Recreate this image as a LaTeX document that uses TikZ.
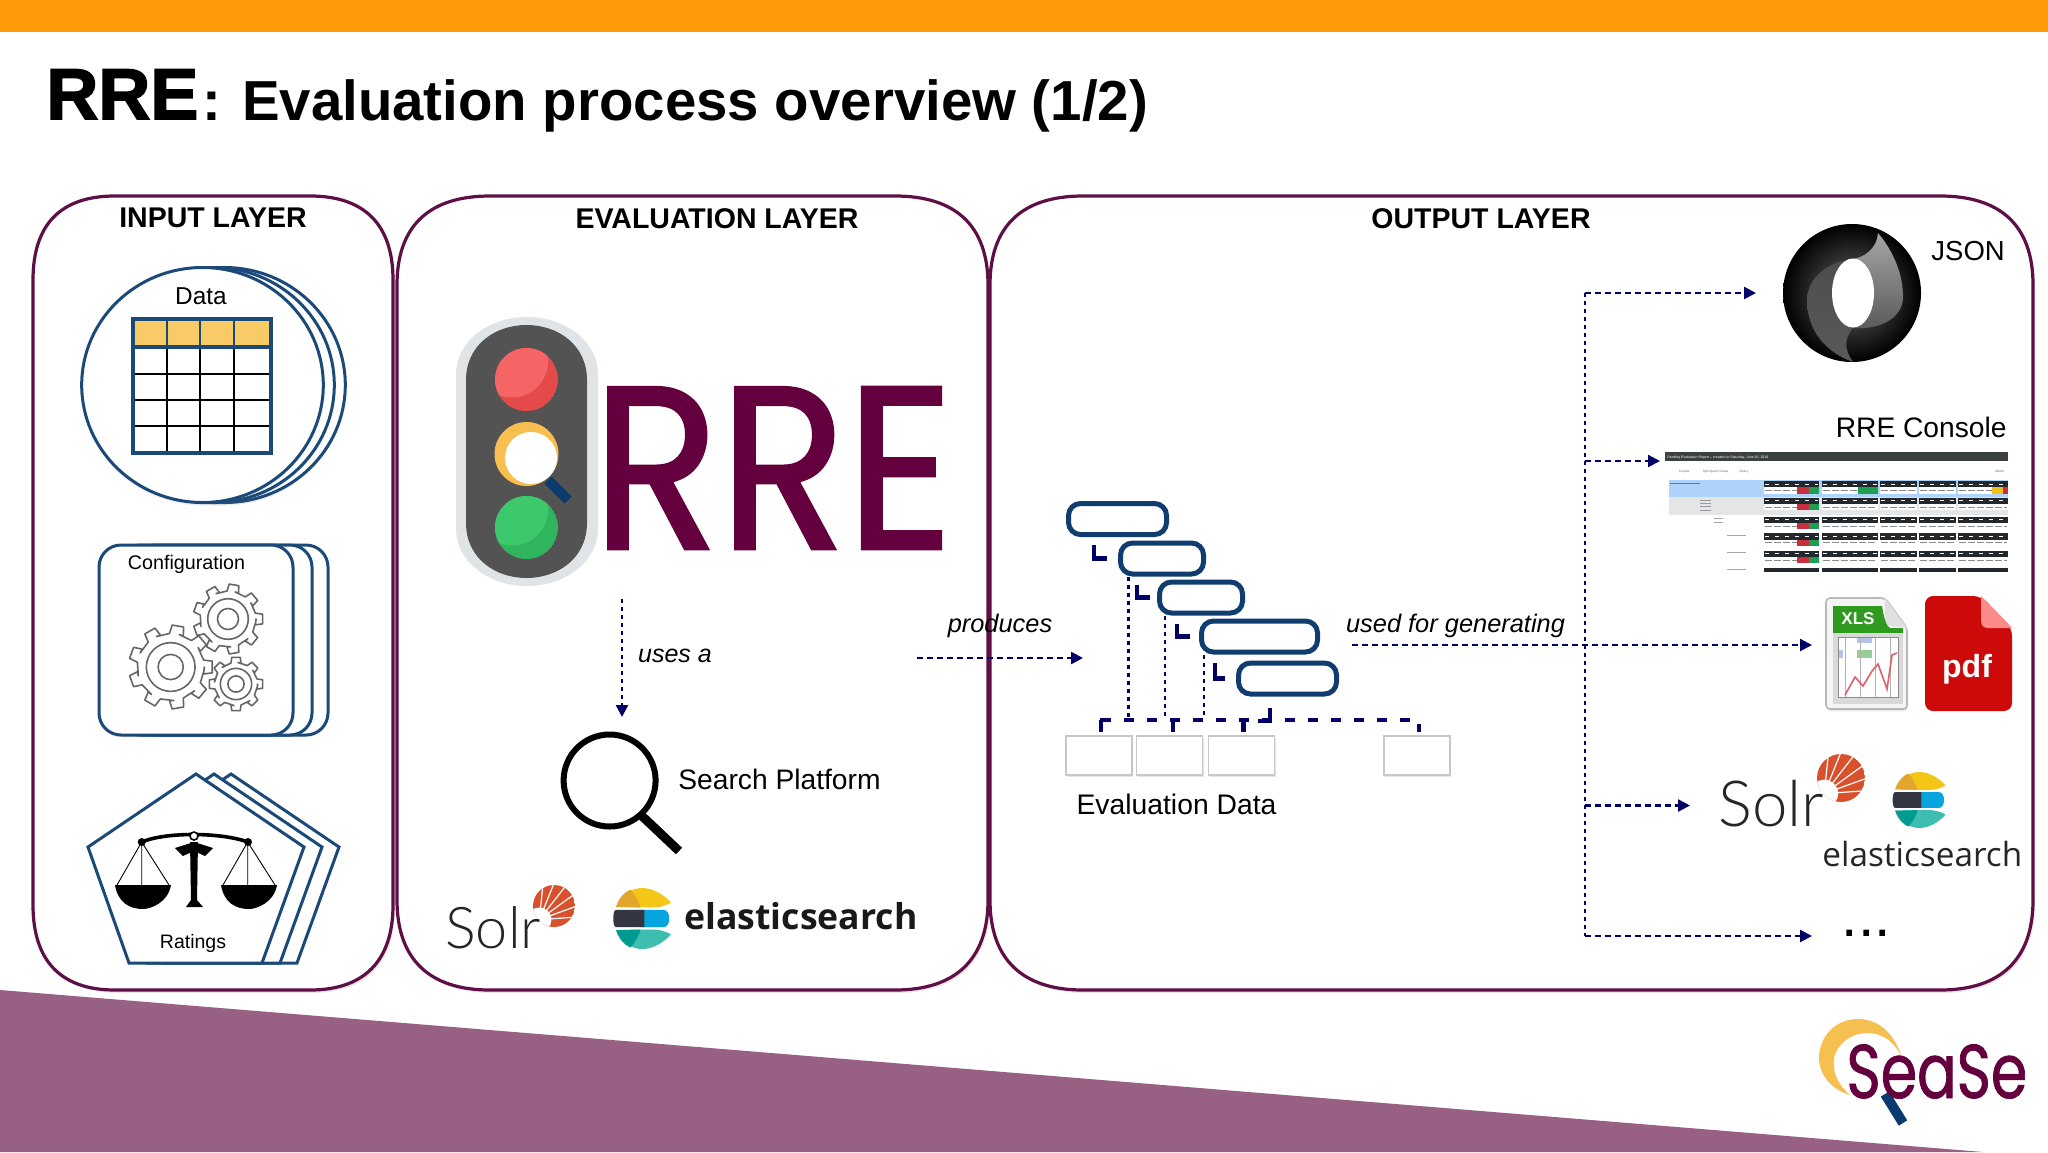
\documentclass[tikz,border=0pt]{standalone}
\usepackage{fontspec}
\setmainfont{Liberation Sans}
\newfontfamily\heavyfont[FakeBold=2.2]{Liberation Sans Bold}
\newfontfamily\logofont[FakeStretch=0.9,FakeBold=1.2]{Poppins}
\newfontfamily\seasefont[FakeStretch=0.77,FakeBold=1.0]{Poppins}
\newfontfamily\solrfont{Lato Light}
\newfontfamily\elasticfont{Open Sans}
\usetikzlibrary{shadows,arrows.meta,calc}
\definecolor{barorange}{HTML}{FF9A0A}
\definecolor{footpurple}{HTML}{986082}
\definecolor{maroon}{HTML}{5E0F45}
\definecolor{logomaroon}{HTML}{65003F}
\definecolor{stackblue}{HTML}{1B4A78}
\definecolor{navyline}{HTML}{000066}
\definecolor{ganttblue}{HTML}{0F3D70}
\definecolor{lensblue}{HTML}{0B3A6F}
\definecolor{sunorange}{HTML}{D9512C}
\definecolor{gearcol}{HTML}{666666}
\newcommand\fz[1]{\fontsize{#1}{#1}\selectfont}
\tikzset{
  panel/.style={draw=maroon,line width=1.6pt,fill=white,drop shadow={shadow xshift=1pt,shadow yshift=-1.5pt,opacity=.18}},
  stackline/.style={draw=stackblue,line width=1.5pt,fill=white},
  lbl/.style={anchor=base,inner sep=0pt,text=black},
  dotline/.style={draw=navyline,line width=1.2pt,dash pattern=on 2pt off 2pt},
  dashline/.style={draw=navyline,line width=1.2pt,dash pattern=on 3pt off 2pt},
  tip/.style={-{Triangle[length=6pt,width=6pt,fill=navyline]}},
  thickbus/.style={draw=navyline,line width=2.4pt},
  gantt/.style={draw=ganttblue,line width=2.5pt,fill=white,rounded corners=6pt,inner sep=0pt,minimum height=15.5pt},
  evalbox/.style={draw=black!22,line width=.7pt,fill=white,inner sep=0pt,minimum width=33pt,minimum height=19.5pt,drop shadow={shadow xshift=.5pt,shadow yshift=-1.2pt,opacity=.2}},
}
% gear: x y R teeth
\newcommand\geariconx[4]{%
  \begin{scope}[shift={(#1,#2)}]
  \draw[draw=gearcol,line width=.8pt,fill=white,line join=round]
    (0:#3*.8)
    \foreach \i in {1,...,#4} {
      -- ({(\i-1)*360/#4+.12*360/#4}:#3*.8)
      -- ({\i*360/#4-.30*360/#4}:#3*.8)
      -- ({\i*360/#4-.20*360/#4}:#3)
      -- ({\i*360/#4+.20*360/#4}:#3)
      -- ({\i*360/#4+.30*360/#4}:#3*.8)
    } -- cycle;
  \draw[draw=gearcol,line width=.8pt] (0,0) circle[radius=#3*.58];
  \draw[draw=gearcol,line width=.8pt] (0,0) circle[radius=#3*.3];
  \end{scope}}
% solr sun: x y r
\newcommand\solrsun[3]{%
  \begin{scope}
  \clip (#1,#2) circle[radius=#3];
  \fill[sunorange] (#1,#2) circle[radius=#3];
  \foreach \a in {-4,-20,-36,-52,-68,-84} {
    \draw[white,line width=.6pt] (#1-.7*#3,#2+.65*#3) -- ++(\a:4*#3);
  }
  \fill[white] (#1-.7*#3,#2+.65*#3) circle[radius=.58*#3];
  \end{scope}}
% elastic logo: x y scale(px half-height)
\newcommand\elasticlogo[3]{%
  \begin{scope}[shift={(#1,#2)},scale=#3]
  \fill[fill={rgb,255:red,244;green,198;blue,24}] (-.85,-.38) .. controls (-.7,-.8) and (-.3,-1) .. (0,-1) .. controls (.35,-1) and (.7,-.8) .. (.95,-.52) .. controls (.7,-.38) and (.5,-.36) .. (.3,-.36) -- cycle;
  \fill[fill={rgb,255:red,226;green,166;blue,46}] (-.85,-.38) .. controls (-.75,-.7) and (-.55,-.88) .. (-.38,-.95) .. controls (-.2,-.75) and (-.1,-.55) .. (-.05,-.36) -- cycle;
  \fill[fill={rgb,255:red,7;green,165;blue,222}] (-.1,-.28) -- (.72,-.28) .. controls (.95,-.28) and (.95,.28) .. (.72,.28) -- (-.1,.28) -- cycle;
  \fill[fill={rgb,255:red,52;green,55;blue,65}] (.08,-.28) -- (-.86,-.28) .. controls (-.97,-.28) and (-.97,.28) .. (-.86,.28) -- (.08,.28) -- cycle;
  \fill[fill={rgb,255:red,62;green,190;blue,176}] (-.85,.38) .. controls (-.7,.8) and (-.3,1) .. (0,1) .. controls (.35,1) and (.7,.8) .. (.95,.52) .. controls (.7,.38) and (.5,.36) .. (.3,.36) -- cycle;
  \fill[fill={rgb,255:red,1;green,155;blue,143}] (-.85,.38) .. controls (-.75,.7) and (-.55,.88) .. (-.38,.95) .. controls (-.2,.75) and (-.1,.55) .. (-.05,.36) -- cycle;
  \end{scope}}
% traffic lamp: cy dark light
\newcommand\tlamp[3]{%
  \begin{scope}
  \clip (526.5,#1) circle[radius=31.5];
  \fill[#2] (526.5,#1) circle[radius=31.5];
  \fill[#3] (512,#1-18) circle[radius=36];
  \end{scope}}
\begin{document}
\begin{tikzpicture}[x=0.5pt,y=-0.5pt]
\useasboundingbox (0,0) rectangle (2048,1152);
\fill[white] (0,0) rectangle (2048,1152);
\fill[barorange] (0,0) rectangle (2048,32);
\fill[footpurple] (0,990) -- (1983,1152) -- (0,1152) -- cycle;

% title
\node[anchor=base west,inner sep=0pt] (titlerre) at (46,119) {\fz{36}\heavyfont RRE};
\node[anchor=base west,inner sep=0pt] (titlerest) at (202,120) {\fz{28.2}\bfseries : Evaluation process overview (1/2)};

% panels
\draw[panel] (33,280) .. controls (33,225) and (60,196) .. (115,196) -- (310,196) .. controls (365,196) and (393,225) .. (393,280) -- (393,905) .. controls (393,960) and (365,990) .. (310,990) -- (115,990) .. controls (60,990) and (33,960) .. (33,905) -- cycle;
\draw[panel] (397,285) .. controls (397,225) and (430,196) .. (490,196) -- (895,196) .. controls (955,196) and (988,225) .. (988,285) -- (988,900) .. controls (988,960) and (955,990) .. (895,990) -- (490,990) .. controls (430,990) and (397,960) .. (397,900) -- cycle;
\draw[panel] (990,285) .. controls (990,225) and (1023,196) .. (1083,196) -- (1940,196) .. controls (2000,196) and (2033,225) .. (2033,285) -- (2033,900) .. controls (2033,960) and (2000,990) .. (1940,990) -- (1083,990) .. controls (1023,990) and (990,960) .. (990,900) -- cycle;

\node[lbl] (inputlayer) at (213,227) {\fz{14.25}\bfseries INPUT LAYER};
\node[lbl] (evallayer) at (717,228) {\fz{14.25}\bfseries EVALUATION LAYER};
\node[lbl] (outputlayer) at (1481,228) {\fz{14.25}\bfseries OUTPUT LAYER};

% ---- data stack
\foreach \dx in {22,11,0} {
  \draw[stackline,drop shadow={shadow xshift=0pt,shadow yshift=-1.5pt,opacity=.12}] (202.5+\dx,385) ellipse[x radius=120.8,y radius=117.5];
}
\node[lbl] (datalabel) at (201,304) {\fz{12.2}Data};
\fill[white] (131,316.5) rectangle (273,455);
\fill[fill={rgb,255:red,248;green,203;blue,102}] (133,320) rectangle (271,345);
\foreach \x in {167,200,234} {
  \draw[stackblue,line width=1.2pt] (\x,318) -- (\x,347);
  \draw[black,line width=1.2pt] (\x,347) -- (\x,453);
}
\foreach \y in {374,400,426} { \draw[black,line width=1.1pt] (133,\y) -- (271,\y); }
\draw[stackblue,line width=1.6pt] (131,347) -- (273,347);
\draw[stackblue,line width=2.4pt] (133,319) rectangle (271,453);

% ---- configuration stack
\foreach \dx in {35,19,0} {
  \draw[stackline,rounded corners=11pt,drop shadow={shadow xshift=0pt,shadow yshift=-1.2pt,opacity=.12}] (99+\dx,545) rectangle (293+\dx,735);
}
\node[lbl] (configlabel) at (186.5,569) {\fz{9.85}Configuration};
\geariconx{170.7}{667}{42}{9}
\geariconx{228}{619}{35}{9}
\geariconx{236}{684}{27}{8}

% ---- ratings stack
\foreach \dx in {35,18,0} {
  \draw[stackline,line join=miter] (196+\dx,774) -- (304+\dx,847) -- (262+\dx,963) -- (129+\dx,963) -- (88+\dx,847) -- cycle;
}
\node[lbl] (ratingslabel) at (193,948) {\fz{9.75}Ratings};
\draw[black,line width=1.8pt] (141.7,842) .. controls (165,832) and (220,832) .. (248,842);
\fill[black] (141.7,842) circle[radius=4] (248,842) circle[radius=4];
\fill[black] (175,848) -- (194,842) -- (213,848) -- (205,856) -- (194,851) -- (183,856) -- cycle;
\fill[black] (190,842) -- (198,842) -- (197,900) -- (203,907) -- (186,907) -- (191,900) -- cycle;
\draw[black,line width=.8pt,fill=white] (194,836) circle[radius=4];
\foreach \dx in {0,106} {
  \draw[black,line width=.45pt] (\dx+117,885) -- (\dx+141.7,842) -- (\dx+169,885) (\dx+141.7,842) -- (\dx+141.7,885);
  \fill[black] (\dx+115,885) -- (\dx+171,885) .. controls (\dx+168,903) and (\dx+150,909) .. (\dx+143,909) .. controls (\dx+130,909) and (\dx+118,903) .. (\dx+115,885) -- cycle;
}

% ---- traffic light
\fill[fill={rgb,255:red,225;green,228;blue,230}] (456,375) .. controls (456,340) and (490,317) .. (527,317) .. controls (564,317) and (598,340) .. (598,375) -- (598,528) .. controls (598,563) and (564,586) .. (527,586) .. controls (490,586) and (456,563) .. (456,528) -- cycle;
\fill[fill={rgb,255:red,83;green,83;blue,83}] (466,380) .. controls (466,345) and (495,325) .. (526.5,325) .. controls (558,325) and (587,345) .. (587,380) -- (587,523) .. controls (587,558) and (558,578) .. (526.5,578) .. controls (495,578) and (466,558) .. (466,523) -- cycle;
\definecolor{reddark}{HTML}{E54A4A}\definecolor{redlight}{HTML}{F56565}
\definecolor{greendark}{HTML}{2FB65C}\definecolor{greenlight}{HTML}{3DC96B}
\tlamp{379.5}{reddark}{redlight}
\fill[fill={rgb,255:red,248;green,190;blue,80}] (526.5,454) circle[radius=32];
\draw[lensblue,line width=5pt] (548,480) -- (568,500);
\fill[white] (531,458) circle[radius=26];
\tlamp{527.5}{greendark}{greenlight}

% ---- RRE logo
\node[anchor=base west,inner sep=0pt,text=logomaroon] (rrelogo) at (592,549) {\fz{116}\logofont RRE};

% ---- uses a
\coordinate (usesfrom) at (622,599);
\coordinate (usesto) at (622,717);
\draw[dotline,tip] (usesfrom) -- (usesto);
\node[lbl] (usesa) at (675,662) {\fz{12.5}\itshape uses a};

% ---- search
\draw[black,line width=3pt] (609.6,780.5) circle[radius=46];
\draw[black,line width=4.5pt] (642,816) -- (679,851);
\node[lbl,anchor=base west] (searchlabel) at (678,789) {\fz{14.1}Search Platform};

% ---- solr + elastic (evaluation)
\solrsun{554}{906}{21}
\node[anchor=base west,inner sep=0pt,text=black!85] (solrone) at (445,948) {\fz{28.8}\solrfont Solr};
\elasticlogo{642}{918.5}{30.5}
\node[anchor=base west,inner sep=0pt,text=black!90] (elasticone) at (684,929) {\fz{17.8}\elasticfont\bfseries elasticsearch};

% ---- produces
\node[lbl] (produces) at (1000,632) {\fz{12.7}\itshape produces};
\coordinate (prodfrom) at (917,658);
\coordinate (prodto) at (1083,658);
\draw[dashline,tip] (prodfrom) -- (prodto);

% ---- gantt boxes
\node[gantt,minimum width=49pt] (g1) at (1117.5,519) {};
\node[gantt,minimum width=41.5pt] (g2) at (1162,558.5) {};
\node[gantt,minimum width=41.5pt] (g3) at (1201,597.5) {};
\node[gantt,minimum width=58pt] (g4) at (1259.5,636.5) {};
\node[gantt,minimum width=49pt] (g5) at (1287.5,678.5) {};
\coordinate (k1) at (1094,519);
\coordinate (k2) at (1137,519);
\coordinate (k3) at (1177,519);
\coordinate (k4) at (1215,519);
\coordinate (k5) at (1270,519);
\foreach \k/\a/\b in {k1/g1/g2,k2/g2/g3,k3/g3/g4,k4/g4/g5} {
  \draw[thickbus,line width=2.2pt,dash pattern=on 0pt off 4pt on 13pt off 100pt] (\k |- \a.south) |- (\b.west);
}
\draw[thickbus,line width=2.2pt,dash pattern=on 0pt off 5.5pt on 13pt off 100pt] (k5 |- g5.south) |- (1258,721);

\node[evalbox] (e1) at (1099,755.5) {};
\node[evalbox] (e2) at (1169.5,755.5) {};
\node[evalbox] (e3) at (1241.5,755.5) {};
\node[evalbox] (e4) at (1417,755.5) {};
\coordinate (t2) at (1128.6,720);
\coordinate (t3) at (1165,716);
\coordinate (t4) at (1204,716);
\draw[dotline] (t2 |- g2.south) -- (t2);
\draw[dotline] (t3 |- g3.south) -- (t3);
\draw[dotline] (t4 |- g4.south) -- (t4);
\coordinate (busa) at (1101,720);
\coordinate (busb) at (1173,720);
\coordinate (busc) at (1243.5,720);
\coordinate (busd) at (1419,720);
\draw[thickbus] (busa |- e1.north) ++(0,-3) -- (busa) ++(-1.2,0) -- (1111,720);
\draw[thickbus] (busb |- e2.north) ++(0,-3) -- (busb);
\draw[thickbus] (busc |- e3.north) ++(0,-3) -- (busc);
\draw[thickbus] (busd |- e4.north) ++(0,-3) -- (1419,724);
\draw[thickbus,dash pattern=on 5pt off 6.5pt] (1124,720) -- (1410,720);
\node[lbl] (evaldata) at (1176.5,814) {\fz{14.15}Evaluation Data};

% ---- used for generating + output bus
\node[lbl] (usedfor) at (1455.5,632) {\fz{12.7}\itshape used for generating};
\coordinate (bustop) at (1585,293);
\coordinate (busbottom) at (1585,936);
\coordinate (genfrom) at (1352,645);
\coordinate (jsonend) at (1756,293);
\coordinate (consoleend) at (1660,461);
\coordinate (xlsend) at (1812,645);
\coordinate (solrend) at (1690,805.5);
\coordinate (moreend) at (1812,936);
\draw[dotline] (bustop) -- (busbottom);
\draw[dashline,tip] (bustop) -- (jsonend);
\draw[dashline,tip] (bustop |- consoleend) -- (consoleend);
\draw[dashline,tip] (genfrom) -- (xlsend);
\draw[dashline,tip] (bustop |- solrend) -- (solrend);
\draw[dashline,tip] (busbottom) -- (moreend);

% ---- JSON logo
\shade[inner color=black!60,outer color=black] (1852,293) circle[radius=69];
\shade[top color=black!70,middle color=black!30,bottom color=black!65] (1853,259) .. controls (1825,262) and (1807,280) .. (1807,300) .. controls (1807,330) and (1825,352) .. (1853,362) .. controls (1845,350) and (1843,340) .. (1853,328) -- cycle;
\shade[top color=black!35,bottom color=black!65] (1878,233) .. controls (1894,252) and (1903,275) .. (1903,297) .. controls (1903,315) and (1885,330) .. (1853,328) -- (1853,259) .. controls (1865,257) and (1877,248) .. cycle;
\fill[white] (1853,293) ellipse[x radius=21,y radius=34.5];
\node[lbl,anchor=base west] (jsonlabel) at (1931,260) {\fz{13.75}JSON};

% ---- RRE console
\node[lbl,anchor=base east] (consolelabel) at (2007,437) {\fz{14.1}RRE Console};
\fill[fill={rgb,255:red,59;green,64;blue,64}] (1665,452) rectangle (2008,461);
\node[anchor=base west,inner sep=0pt,text=white] (consoletitle) at (1667,458.5) {\fontsize{1.75}{2}\selectfont Ranking Evaluation Report -- created on Saturday, June 16, 2018};
\fill[fill={rgb,255:red,173;green,211;blue,251}] (1669,480) rectangle (2008,497);
\fill[fill={rgb,255:red,227;green,229;blue,231}] (1669,497) rectangle (2008,515);
\foreach \t/\x in {Corpus/1684,Topic/1706,Query/1744,Metric/2000} {
  \node[anchor=base,inner sep=0pt,text=black!60] at (\x,472) {\fontsize{1.6}{2}\selectfont\t};
}
\node[anchor=base,inner sep=0pt,text=black!60] (qgroup) at (1719,472) {\fontsize{1.6}{2}\selectfont Query Group};
\draw[black!55,line width=.5pt] (1670,483) -- (1700,483);
\foreach \y in {500,503,506,510} { \draw[black!40,line width=.4pt] (1700,\y) -- (1711,\y); }
\foreach \y in {518,522} { \draw[black!35,line width=.4pt] (1714,\y) -- (1723,\y); }
\foreach \y in {535,552,569} { \draw[black!35,line width=.4pt] (1727,\y) -- (1746,\y); }
\foreach \y in {481,497.7,516.7,533.3,550.7} {
  \foreach \a/\b in {1764/1819.3,1821.7/1877.7,1880/1916.7,1919/1956,1958.3/2008} {
    \fill[fill={rgb,255:red,35;green,40;blue,45}] (\a,\y) rectangle (\b,\y+6.3);
    \fill[white] (\a,\y+6.3) rectangle (\b,\y+12.6);
    \draw[white,line width=.35pt,dash pattern=on 2pt off 3pt] (\a+1,\y+3) -- (\b-1,\y+3);
    \draw[black!45,line width=.35pt,dash pattern=on 3.5pt off 1pt] (\a+1,\y+9.5) -- (\b-1,\y+9.5);
  }
  \fill[fill={rgb,255:red,201;green,48;blue,63}] (1796.7,\y+6.3) rectangle (1808.7,\y+12.6);
  \fill[fill={rgb,255:red,30;green,158;blue,80}] (1808.7,\y+6.3) rectangle (1819.3,\y+12.6);
}
\foreach \a/\b in {1764/1819.3,1821.7/1877.7,1880/1916.7,1919/1956,1958.3/2008} {
  \fill[fill={rgb,255:red,35;green,40;blue,45}] (\a,567.7) rectangle (\b,572);
}
\fill[fill={rgb,255:red,30;green,158;blue,80}] (1858,487.3) rectangle (1877.7,493.6);
\fill[fill={rgb,255:red,240;green,190;blue,30}] (1992,487.3) rectangle (2003,493.6);
\fill[fill={rgb,255:red,201;green,48;blue,63}] (2003,487.3) rectangle (2008,493.6);

% ---- XLS icon
\draw[draw=black!28,line width=.8pt,fill=black!4,rounded corners=2pt,drop shadow={shadow xshift=.5pt,shadow yshift=-1pt,opacity=.2}] (1826,598) -- (1885,598) -- (1907,628) -- (1907,709) -- (1826,709) -- cycle;
\fill[black!12] (1885,598) -- (1885,625) -- (1907,628) -- cycle;
\fill[fill={rgb,255:red,46;green,155;blue,30}] (1833,606) -- (1882,606) .. controls (1884,618) and (1886,626) .. (1890,628) -- (1903,628) -- (1903,633) -- (1833,633) -- cycle;
\node[anchor=base,inner sep=0pt,text=white] (xlslabel) at (1858,624) {\fz{8.5}\bfseries XLS};
\fill[black!15] (1833,633) rectangle (1903,704);
\fill[white] (1838,637) rectangle (1898,697);
\fill[fill={rgb,255:red,180;green,195;blue,235}] (1857,638) rectangle (1872,643);
\fill[fill={rgb,255:red,150;green,205;blue,150}] (1857,650) rectangle (1872,658);
\fill[fill={rgb,255:red,180;green,195;blue,235}] (1838,650) rectangle (1843,658);
\draw[black!30,line width=.35pt] (1838,637) grid[xstep=15,ystep=10] (1898,697);
\draw[black!45,line width=.5pt] (1838,637) rectangle (1898,697);
\draw[fill=none,draw={rgb,255:red,225;green,95;blue,105},line width=.8pt] (1845,695) -- (1855,677) -- (1863,686) -- (1872,671) -- (1878,664) -- (1887,689) -- (1892,655) -- (1897,653);

% ---- PDF icon
\fill[fill={rgb,255:red,204;green,10;blue,10},rounded corners=4pt] (1925,596) -- (1981,596) -- (2012,628) -- (2012,711) -- (1925,711) -- cycle;
\fill[fill={rgb,255:red,255;green,138;blue,138}] (1981,596) -- (2012,628) -- (1988,628) .. controls (1983,628) and (1981,625) .. (1981,620) -- cycle;
\node[anchor=base,inner sep=0pt,text=white] (pdflabel) at (1967,677) {\fz{16}\bfseries pdf};

% ---- solr + elastic (output)
\solrsun{1841}{778}{24}
\node[anchor=base west,inner sep=0pt,text=black!85] (solrtwo) at (1718,826) {\fz{31.8}\solrfont Solr};
\elasticlogo{1919}{800}{28}
\node[anchor=base west,inner sep=0pt,text=black!85] (elastictwo) at (1822,866) {\fz{16.65}\elasticfont elasticsearch};

% ---- dots
\node[lbl] (moredots) at (1866.5,936) {\fz{29.5}...};

% ---- SeaSe logo
\fill[fill={rgb,255:red,246;green,192;blue,80}] (1902,1058) .. controls (1895,1035) and (1880,1019) .. (1858,1019) .. controls (1835,1019) and (1819,1037) .. (1819,1058) .. controls (1819,1075) and (1832,1090) .. (1850,1095) .. controls (1838,1085) and (1832,1072) .. (1834,1058) .. controls (1838,1042) and (1852,1033) .. (1868,1033) .. controls (1884,1033) and (1896,1044) .. (1902,1058) -- cycle;
\draw[lensblue,line width=5pt] (1885,1094) -- (1903,1123);
\node[anchor=base west,inner sep=0pt,text=logomaroon] (seaselogo) at (1846,1098) {\fz{38}\seasefont SeaSe};
\end{tikzpicture}
\end{document}
